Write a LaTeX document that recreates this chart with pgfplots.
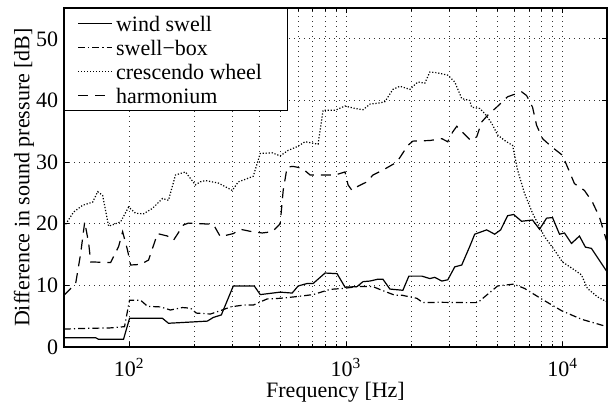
\documentclass[border=0pt]{standalone}
\usepackage{pgfplots}
\pgfplotsset{compat=1.18}
\usepackage{fontspec}
\setmainfont{Liberation Serif}
\newcommand{\tl}{\fontsize{11}{13}\selectfont}
\begin{document}
\begin{tikzpicture}
\begin{semilogxaxis}[
  name=ax,
  scale only axis,
  width=271.5pt, height=169.5pt,
  xmin=50, xmax=16000, ymin=0, ymax=55,
  ytick={0,10,20,30,40,50},
  yticklabels={\tl 0,\tl 10,\tl 20,\tl 30,\tl 40,\tl 50},
  xtick={100,1000,10000},
  xticklabels={\tl 10\textsuperscript{2},\tl 10\textsuperscript{3},\tl 10\textsuperscript{4}},
  font=\fontsize{11}{13}\selectfont,
  xticklabel style={anchor=base, yshift=-14.9pt},
  yticklabel style={inner sep=2.8pt},
  tick align=inside,
  major tick length=2.5pt, minor tick length=1.5pt,
  every tick/.style={black, line width=0.4pt},
  axis line style={line width=0.8pt},
  xmajorgrids, xminorgrids, ymajorgrids,
  grid style={black!80, line width=0.4pt, dash pattern=on 0.45pt off 2.05pt},
  minor grid style={black!80, line width=0.4pt, dash pattern=on 0.45pt off 2.05pt},
  xlabel={Frequency [Hz]},
  ylabel={Difference in sound pressure [dB]},
  xlabel style={at={(axis description cs:0.5,0)}, anchor=base, yshift=-25.5pt},
  ylabel style={at={(axis description cs:-0.0737,0.5)}, anchor=center},
  legend cell align=left,
  legend style={at={(0,1)}, anchor=north west, draw=black, line width=0.5pt,
    inner xsep=6.5pt, inner ysep=1.5pt, row sep=0pt,
    nodes={inner sep=1pt, text height=9pt, text depth=1pt, font=\fontsize{11}{12}\selectfont}},
  legend image code/.code={\draw[#1] (0pt,0pt) -- (16.7pt,0pt); \path (17.7pt,0pt);},
]
\addplot[black, line width=0.6pt] coordinates {
(50,1.5) (70,1.5) (72.2,1.25) (94.1,1.25) (100.3,4.65) (142.3,4.65) (151.7,3.85) (181.6,4.0) (229.3,4.2) (244.3,4.8) (265.9,5.2) (302,9.9) (377.4,9.9) (402.2,8.5) (497,8.9) (564.4,8.75) (601.5,9.9) (661.6,10.3) (705,10.3) (800.6,12.0) (909.3,11.9) (989.7,9.7) (1124,9.8) (1198,10.6) (1290,10.7) (1404,11.0) (1480,11.0) (1594,9.4) (1830,9.2) (1950,11.5) (2238,11.5) (2436,11.1) (2568,11.3) (2766,10.7) (2948,10.9) (3175,13.0) (3419,13.3) (3722,16.3) (3925,18.3) (4457,19.0) (4851,18.3) (5169,19.0) (5567,21.3) (5933,21.5) (6457,20.4) (7255,20.6) (7816,19.1) (8418,20.9) (8969,21.0) (9658,18.3) (10183,18.5) (10967,16.8) (11939,18.0) (12722,16.2) (13561,16.0) (16000,12.2)
};
\addlegendentry{\makebox[78.3pt][l]{wind swell}}
\addplot[black, line width=0.6pt, dash pattern=on 3.5pt off 1.5pt on 0.6pt off 1.5pt] coordinates {
(50,2.9) (59.7,3.0) (82,3.1) (95.1,3.3) (100.3,7.6) (112.7,7.6) (121.4,6.6) (139.4,6.5) (154.9,6.0) (176,6.4) (191.5,6.3) (204,5.5) (236.7,5.35) (268.8,6.0) (292.6,6.5) (335.7,6.8) (373.3,6.8) (432.8,7.8) (497,7.9) (582.6,8.15) (705,8.5) (844,9.35) (969,9.5) (1136,9.8) (1331,9.8) (1464,9.2) (1681,8.4) (1810,8.4) (2122,7.9) (2261,7.2) (2708,7.25) (3529,7.2) (4050,7.2) (4363,8.15) (5006,9.9) (5933,10.2) (6665,9.5) (7980,7.8) (9865,5.9) (12195,4.5) (16000,3.3)
};
\addlegendentry{swell\textminus box}
\addplot[black, line width=0.6pt, dash pattern=on 0.6pt off 0.9pt] coordinates {
(50,19.5) (55.4,21.9) (61,23.0) (67.8,23.5) (71.5,25.2) (75.4,24.6) (80.3,19.6) (86.5,20.0) (91.2,20.3) (99.3,22.7) (106.9,21.7) (116.4,21.6) (128.1,22.5) (142.3,24.1) (151.7,23.8) (163.4,27.9) (181.6,28.4) (201.9,26.3) (212.9,26.8) (224.5,27.0) (257.6,26.6) (277.5,26.0) (298.9,25.4) (318.5,26.8) (343.1,27.2) (373.3,27.7) (402.2,31.4) (456.6,31.5) (497,31.0) (540.9,31.9) (595.2,32.5) (647.8,33.3) (743.3,32.9) (784,38.4) (890.2,38.4) (989.7,39.1) (1100,38.7) (1198,38.5) (1290,39.4) (1434,39.6) (1512,39.8) (1646,41.8) (1773,42.3) (1970,41.8) (2145,43.0) (2310,42.8) (2436,44.6) (2623,44.5) (2948,44.1) (3175,43.0) (3419,40.3) (3722,40.0) (3801,38.9) (4137,38.7) (4363,37.9) (4699,36.3) (5006,34.4) (5394,33.5) (5870,32.7) (6188,28.7) (6665,24.9) (7255,21.7) (8240,17.9) (9161,15.7) (9970,13.8) (11323,12.5) (12195,11.7) (12990,9.5) (14443,8.15) (16000,7.3)
};
\addlegendentry{crescendo wheel}
\addplot[black, line width=0.6pt, dash pattern=on 5pt off 3.5pt] coordinates {
(50,8.4) (56.6,10.3) (59.7,15.2) (62.3,20.3) (65,16.8) (66.4,13.8) (82,13.7) (89.3,16.3) (93.2,18.7) (98.2,15.7) (101.4,13.3) (112.7,13.4) (122.7,14.1) (135,18.4) (150.1,18.0) (159.9,17.3) (177.8,19.8) (187.5,20.1) (244.3,19.9) (263.2,17.9) (302,18.4) (325.4,19.1) (369.4,18.7) (410.7,18.5) (456.6,18.7) (497,20.0) (513,25.4) (535.1,29.2) (570.4,29.3) (627.5,29.0) (683.2,27.9) (890.2,27.9) (989.7,28.4) (1022,26.3) (1066,25.4) (1124,26.0) (1250,26.8) (1331,27.9) (1480,28.7) (1717,30.0) (1929,32.7) (2034,33.4) (2436,33.5) (2766,33.8) (2948,33.3) (3108,34.9) (3243,35.8) (3455,34.8) (3762,33.5) (4008,34.1) (4225,36.5) (4503,37.6) (4953,38.9) (5567,40.6) (6457,41.4) (6808,40.8) (7255,38.9) (7568,36.0) (8067,33.8) (8874,32.5) (9970,31.1) (10513,29.2) (11323,26.5) (12589,25.4) (13705,23.5) (14757,21.1) (16000,17.0)
};
\addlegendentry{harmonium}
\end{semilogxaxis}
\pgfresetboundingbox
\path[use as bounding box] ([shift={(-32pt,-31.5pt)}]ax.south west) rectangle ([shift={(3.5pt,4pt)}]ax.north east);
\end{tikzpicture}
\end{document}
